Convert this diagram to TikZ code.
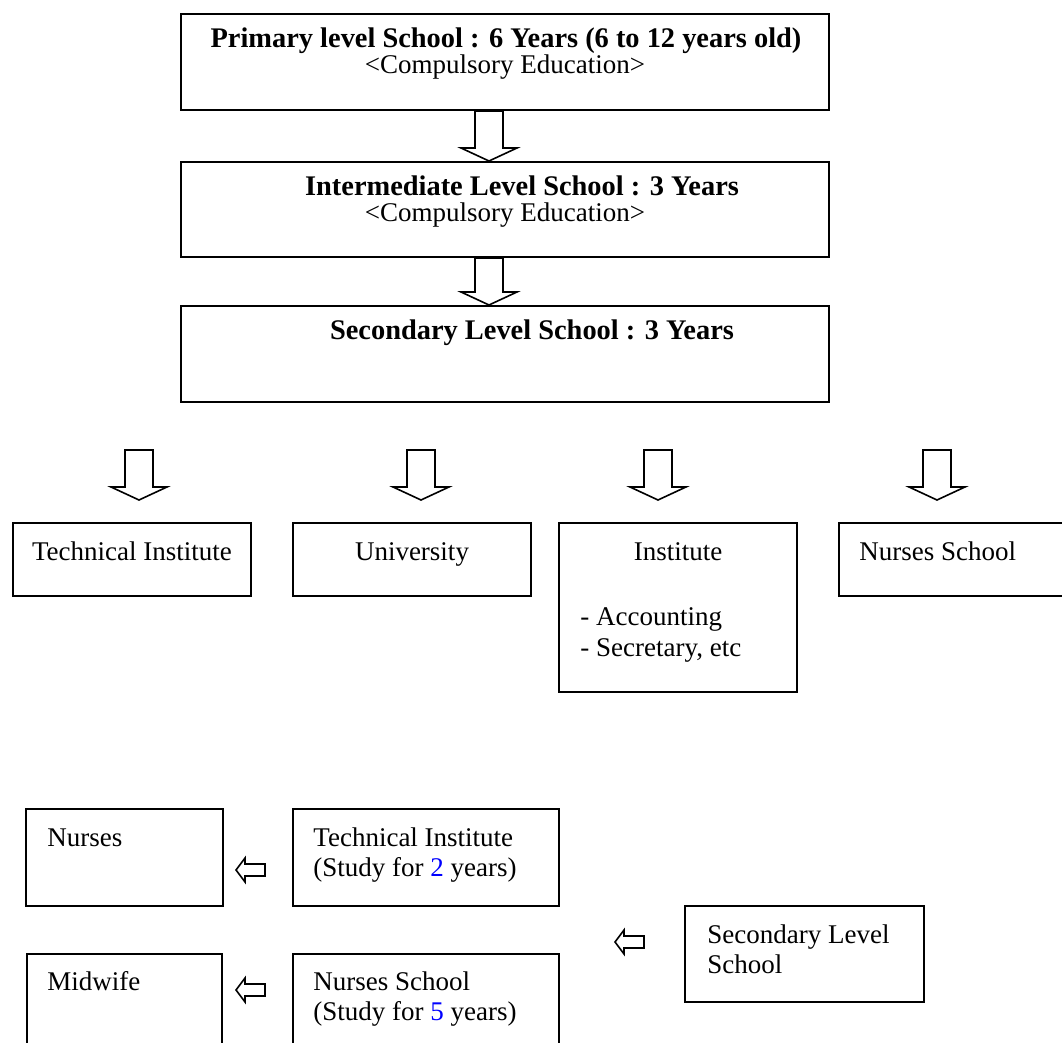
\documentclass[tikz,border=0pt]{standalone}
\usepackage{fontspec}
\setmainfont{Liberation Serif}
\usetikzlibrary{calc,fit}
\tikzset{
  boxnode/.style={draw, line width=1pt, rectangle, inner sep=0pt},
  txt/.style={inner sep=0pt, font=\fontsize{13.5}{15}\selectfont},
  txtl/.style={txt, anchor=base west},
  txtc/.style={txt, anchor=base},
  boldtxt/.style={inner sep=0pt, anchor=base, font=\fontsize{14.2}{16}\selectfont\bfseries},
  blkarrow/.style={draw, line width=0.8pt, fill=white, line join=miter},
}
\newcommand{\blkdown}[2]{%
  \draw[blkarrow] ($(#1)+(-14,0)$) -- ($(#2)+(-14,-13)$) -- ($(#2)+(-28,-13)$) -- (#2)
    -- ($(#2)+(28,-13)$) -- ($(#2)+(14,-13)$) -- ($(#1)+(14,0)$) -- cycle;}
\newcommand{\blkleft}[2]{%
  \draw[blkarrow] (#2) -- ($(#2)+(9,-12)$) -- ($(#2)+(9,-6)$) -- ($(#1)+(0,-6)$)
    -- ($(#1)+(0,6)$) -- ($(#2)+(9,6)$) -- ($(#2)+(9,12)$) -- cycle;}
\begin{document}
\begin{tikzpicture}[x=0.5pt,y=-0.5pt]
\useasboundingbox (0,0) rectangle (1062,1043);
% top column
\node[boxnode, fit={(181,14) (829,110)}] (p1) {};
\node[boxnode, fit={(181,162) (829,257)}] (p2) {};
\node[boxnode, fit={(181,306) (829,402)}] (p3) {};
\node[boldtxt] (p1t1) at (506,48) {Primary level School : 6 Years (6 to 12 years old)};
\node[txtc] (p1t2) at (505,74) {<Compulsory Education>};
\node[boldtxt] (p2t1) at (522,196) {Intermediate Level School : 3 Years};
\node[txtc] (p2t2) at (505,222) {<Compulsory Education>};
\node[boldtxt] (p3t1) at (532,340) {Secondary Level School : 3 Years};
% arrows between top boxes
\coordinate (a1s) at ($(p1.south)+(-16,0)$);
\coordinate (a1e) at ($(p2.north)+(-16,0)$);
\coordinate (a2s) at ($(p2.south)+(-16,0)$);
\coordinate (a2e) at ($(p3.north)+(-16,0)$);
\blkdown{a1s}{a1e}
\blkdown{a2s}{a2e}
% row of options
\node[boxnode, fit={(13,523) (251,596)}] (ti) {};
\node[boxnode, fit={(293,523) (531,596)}] (un) {};
\node[boxnode, fit={(559,523) (797,692)}] (in) {};
\node[boxnode, fit={(839,523) (1077,596)}] (ns) {};
\node[txtc] (tit) at (132,561) {Technical Institute};
\node[txtc] (unt) at (412,561) {University};
\node[txtc] (int) at (678,561) {Institute};
\node[txtl] (int2) at (580,625) {- Accounting};
\node[txtl] (int3) at (580,656) {- Secretary, etc};
\node[txtl] (nst) at (859,561) {Nurses School};
\coordinate (r1s) at (139,450); \coordinate (r1e) at (139,500);
\coordinate (r2s) at (421,450); \coordinate (r2e) at (421,500);
\coordinate (r3s) at (658,450); \coordinate (r3e) at (658,500);
\coordinate (r4s) at (937,450); \coordinate (r4e) at (937,500);
\blkdown{r1s}{r1e}
\blkdown{r2s}{r2e}
\blkdown{r3s}{r3e}
\blkdown{r4s}{r4e}
% bottom part
\node[boxnode, fit={(26,809) (223,906)}] (nu) {};
\node[boxnode, fit={(293,809) (559,906)}] (ti2) {};
\node[boxnode, fit={(27,954) (222,1051)}] (mw) {};
\node[boxnode, fit={(293,954) (559,1051)}] (ns2) {};
\node[boxnode, fit={(685,906) (924,1002)}] (sec) {};
\node[txtl] (nut) at (47,846) {Nurses};
\node[txtl] (ti2t1) at (313,846) {Technical Institute};
\node[txtl] (ti2t2) at (313,876) {(Study for {\color{blue}2} years)};
\node[txtl] (mwt) at (47,990) {Midwife};
\node[txtl] (ns2t1) at (313,990) {Nurses School};
\node[txtl] (ns2t2) at (313,1020) {(Study for {\color{blue}5} years)};
\node[txtl] (sect1) at (707,943) {Secondary Level};
\node[txtl] (sect2) at (707,973) {School};
\coordinate (l1s) at (265,870); \coordinate (l1e) at (236,870);
\coordinate (l2s) at (265,990); \coordinate (l2e) at (236,990);
\coordinate (l3s) at (644,942); \coordinate (l3e) at (615,942);
\blkleft{l1s}{l1e}
\blkleft{l2s}{l2e}
\blkleft{l3s}{l3e}
\end{tikzpicture}
\end{document}
